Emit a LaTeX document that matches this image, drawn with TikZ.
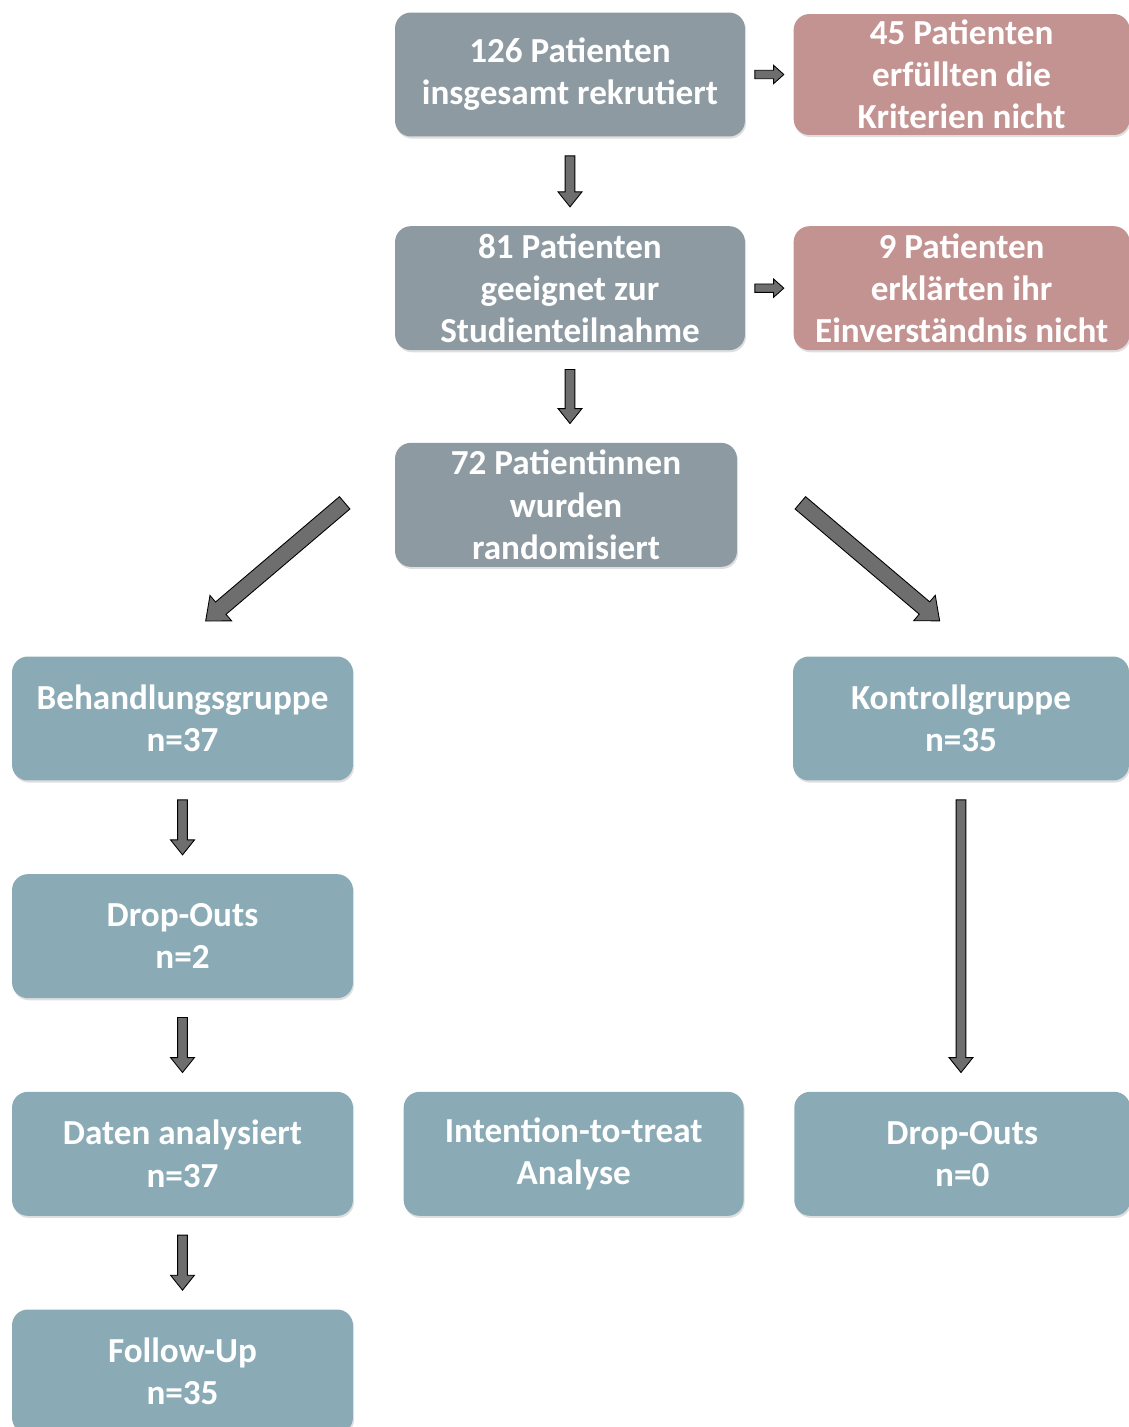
\documentclass[tikz,border=0pt]{standalone}
\usepackage{fontspec}
\setmainfont{Carlito}
\usepackage{tikz}
\usetikzlibrary{calc, positioning, shadows}
\definecolor{greybox}{RGB}{142, 154, 161}
\definecolor{redbox}{RGB}{195, 147, 146}
\definecolor{tealbox}{RGB}{138, 171, 182}
\definecolor{arrowgray}{RGB}{110, 110, 110}

\begin{document}
\begin{tikzpicture}[
    x=0.02cm, y=-0.02cm,
    box/.style={rounded corners=9pt, text=white, align=center,
                minimum height=2.48cm, inner sep=0pt,
                font=\fontsize{20}{24}\selectfont\bfseries,
                drop shadow={opacity=0.25, shadow xshift=0.6pt, shadow yshift=-1.2pt}},
    grey/.style={box, fill=greybox},
    red/.style={box, fill=redbox},
    teal/.style={box, fill=tealbox},
    barrow/.style n args={4}{draw=black, fill=arrowgray, line width=0.5pt,
      to path={let \p1=(\tikztostart), \p2=(\tikztotarget),
                   \n1={atan2(\y2-\y1,\x2-\x1)},
                   \n2={veclen(\x2-\x1,\y2-\y1)-#4}
               in [shift={(\p1)}, rotate=\n1]
               (#4,-#1) -- ({\n2-#3},-#1) -- ({\n2-#3},-#2) -- ({\n2+0pt},0)
               -- ({\n2-#3},#2) -- ({\n2-#3},#1) -- (#4,#1) -- cycle}},
    downarr/.style={barrow={2.8pt}{6.8pt}{8.5pt}{10.8pt}},
    sidearr/.style={barrow={2.4pt}{5.2pt}{5.8pt}{5.4pt}},
    diagarr/.style={barrow={4.6pt}{9.5pt}{11.3pt}{0pt}}
]
\clip (0,0) rectangle (1129,1427);
% Screening
\node[grey, minimum width=7cm] (t1) at (570,74.5) {126 Patienten\\insgesamt rekrutiert};
\node[red, minimum width=6.72cm, minimum height=2.42cm, right=0.96cm of t1] (r1)
    {45 Patienten\\erfüllten die\\Kriterien nicht};
\node[grey, minimum width=7cm, below=1.78cm of t1] (t2) {81 Patienten\\geeignet zur\\Studienteilnahme};
\node[red, minimum width=6.72cm, right=0.96cm of t2] (r2)
    {9 Patienten\\erklärten ihr\\Einverständnis nicht};
\node[grey, minimum width=6.84cm, below=1.84cm of t2, xshift=-0.08cm] (t3)
    {72 Patientinnen\\wurden\\randomisiert};
% Groups
\node[teal, minimum width=6.82cm] (bg) at (182.5,718.5) {Behandlungsgruppe\\n=37};
\node[teal, minimum width=6.72cm] (kg) at (961,718.5) {Kontrollgruppe\\n=35};
\node[teal, minimum width=6.82cm, below=1.86cm of bg] (do1) {Drop-Outs\\n=2};
\node[teal, minimum width=6.82cm, below=1.86cm of do1] (da) {Daten analysiert\\n=37};
\node[teal, minimum width=6.82cm, below=1.86cm of da] (fu) {Follow-Up\\n=35};
\node[teal, minimum width=6.8cm, right=1cm of da] (itt) {Intention-to-treat\\Analyse};
\node[teal, minimum width=6.72cm, right=1cm of itt] (do2) {Drop-Outs\\n=0};
% Arrows
\draw[sidearr] (t1.east) to (r1.west);
\draw[sidearr] (t2.east) to (r2.west);
\draw[downarr] (t1.south) to (t2.north);
\draw[downarr] (t2.south) to (t2.south |- t3.north);
\draw[diagarr] ($(t3.west)+(-50,-2)$) to ($(bg.north)+(23,-35)$);
\draw[diagarr] ($(t3.east)+(63,-2)$) to ($(kg.north)+(-21,-35)$);
\draw[downarr] (bg.south) to (do1.north);
\draw[downarr] (do1.south) to (da.north);
\draw[downarr] (da.south) to (fu.north);
\draw[downarr] (kg.south) to (kg.south |- do2.north);
\end{tikzpicture}
\end{document}
